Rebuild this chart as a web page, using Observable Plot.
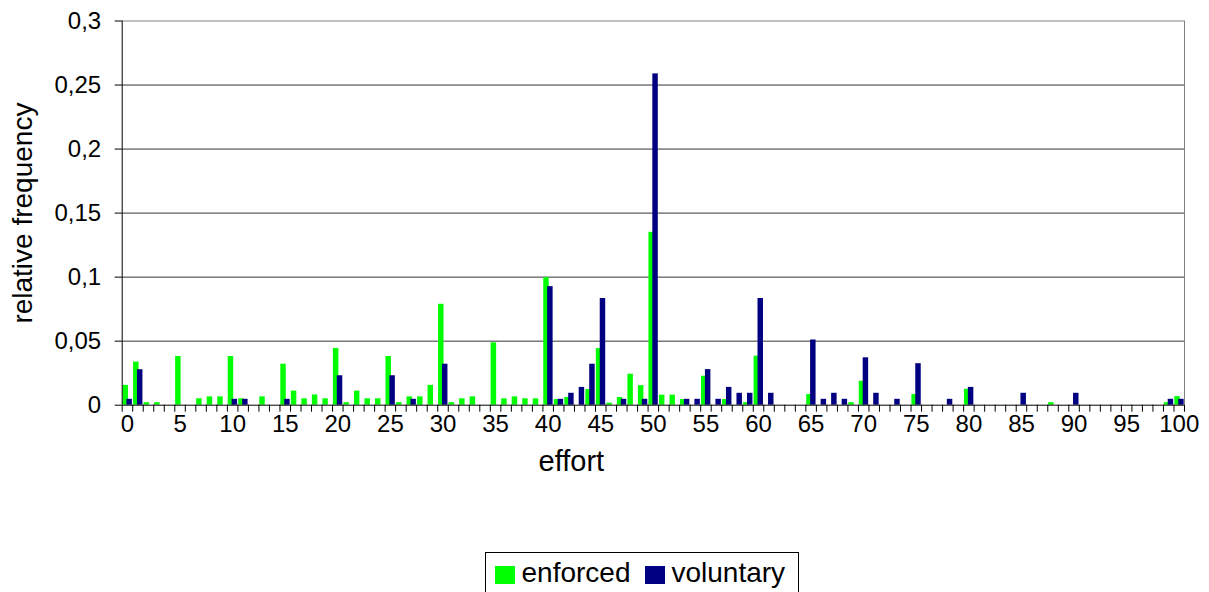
<!DOCTYPE html>
<html>
<head>
<meta charset="utf-8">
<script src="https://cdn.jsdelivr.net/npm/d3@7"></script>
<script src="https://cdn.jsdelivr.net/npm/@observablehq/plot@0.6"></script>
<style>
  html, body { margin: 0; padding: 0; background: #fff; overflow: hidden; }
  #wrap { position: relative; width: 1209px; height: 592px; font-family: "Liberation Sans", Arial, sans-serif; }
  #legend { position: absolute; left: 485px; top: 552px; width: 314px; height: 60px; border: 1px solid #000; box-sizing: border-box; }
  #legend .sw { position: absolute; width: 20px; height: 18px; top: 13px; }
  #legend .lb { position: absolute; top: 6px; font-size: 28px; line-height: 28px; color: #000; white-space: nowrap; }
</style>
</head>
<body>
<div id="wrap"></div>
<script>
// categories (effort levels)
const efforts = d3.range(0, 101);
// relative frequency, enforced
const enforced = [
  0.0155,0.0337,0.002,0.002,0,0.038,0,0.005,0.0065,0.0065,
  0.038,0.005,0,0.0065,0,0.032,0.011,0.005,0.008,0.005,
  0.0443,0.002,0.011,0.005,0.005,0.038,0.002,0.0065,0.0065,0.0155,
  0.0788,0.002,0.005,0.0065,0,0.0487,0.005,0.0065,0.005,0.005,
  0.0996,0.0044,0.006,0,0.0122,0.0442,0.0016,0.006,0.0242,0.0153,
  0.135,0.0078,0.0078,0.0044,0,0.0226,0,0.0044,0,0.002,
  0.0383,0,0,0,0,0.0083,0,0,0,0.002,
  0.0187,0,0,0,0,0.0083,0,0,0,0,
  0.0124,0,0,0,0,0,0,0,0.002,0,
  0,0,0,0,0,0,0,0,0,0.002,
  0.0067
];
// relative frequency, voluntary
const voluntary = [
  0.0046,0.0277,0,0,0,0,0,0,0,0,
  0.0046,0.0046,0,0,0,0.0046,0,0,0,0,
  0.023,0,0,0,0,0.023,0,0.0046,0,0,
  0.032,0,0,0,0,0,0,0,0,0,
  0.0926,0.0046,0.0093,0.0139,0.032,0.0833,0,0.0046,0,0.0046,
  0.2587,0,0,0.0046,0.0046,0.0278,0.0046,0.0139,0.0093,0.0093,
  0.0833,0.0093,0,0,0,0.0509,0.0046,0.0093,0.0046,0,
  0.037,0.0093,0,0.0046,0,0.0324,0,0,0.0046,0,
  0.0139,0,0,0,0,0.0093,0,0,0,0,
  0.0093,0,0,0,0,0,0,0,0,0.0046,
  0.0046
];
const yTicks = [0, 0.05, 0.1, 0.15, 0.2, 0.25, 0.3];
const xLabelTicks = [0,5,10,15,20,25,30,35,40,45,50,55,60,65,70,75,80,85,90,95,100];
const seriesNames = ["enforced", "voluntary"];
const seriesColors = ["#00ff00", "#000080"];

const enfData = efforts.map((e, i) => ({effort: e, value: enforced[i]})).filter(d => d.value > 0);
const volData = efforts.map((e, i) => ({effort: e, value: voluntary[i]})).filter(d => d.value > 0);
const boundaries = efforts.map(e => e - 0.5).concat([efforts[efforts.length - 1] + 0.5]);

const W = 1209, H = 546;
const chart = Plot.plot({
  width: W,
  height: H,
  marginLeft: 121.7,
  marginRight: 25,
  marginTop: 20.5,
  marginBottom: H - 404.7,
  style: {fontFamily: '"Liberation Sans", Arial, sans-serif', fontSize: "24px", color: "#000", background: "#fff"},
  x: {type: "linear", domain: [-0.5, 100.5], axis: null},
  y: {domain: [0, 0.3], axis: null},
  marks: [
    Plot.gridY(yTicks.filter(t => t > 0 && t < 0.3), {stroke: "#000", strokeOpacity: 0.8}),
    Plot.ruleY([0.3], {stroke: "#808080"}),
    Plot.ruleX([100.5], {stroke: "#808080"}),
    Plot.rectY(enfData, {x1: d => d.effort - 0.42, x2: d => d.effort + 0.1, y1: 0, y2: "value", fill: seriesColors[0]}),
    Plot.rectY(volData, {x1: d => d.effort - 0.05, x2: d => d.effort + 0.47, y1: 0, y2: "value", fill: seriesColors[1]}),
    Plot.ruleX([-0.5], {stroke: "#000"}),
    Plot.ruleY([0], {stroke: "#000"}),
    Plot.axisY(yTicks, {tickSize: 7, tickPadding: 14, tickFormat: d => String(d).replace(".", ","), label: null}),
    Plot.axisX(boundaries, {tickSize: 7, tickFormat: () => "", label: null}),
    Plot.axisX(xLabelTicks, {tickSize: 0, tickPadding: 10, label: null}),
    Plot.text(["relative frequency"], {frameAnchor: "left", textAnchor: "middle", dx: -99, rotate: -90, fontSize: 28, fill: "#000"}),
    Plot.text(["effort"], {frameAnchor: "bottom", dx: -82, dy: 66, fontSize: 29, fill: "#000"})
  ]
});
const wrap = document.getElementById("wrap");
wrap.appendChild(chart);

const legend = document.createElement("div");
legend.id = "legend";
const lx = [[9, 35.5], [159, 185.5]];
seriesNames.forEach((name, i) => {
  const sw = document.createElement("div");
  sw.className = "sw";
  sw.style.left = lx[i][0] + "px";
  sw.style.background = seriesColors[i];
  const lb = document.createElement("div");
  lb.className = "lb";
  lb.style.left = lx[i][1] + "px";
  lb.textContent = name;
  legend.appendChild(sw);
  legend.appendChild(lb);
});
wrap.appendChild(legend);
</script>
</body>
</html>
